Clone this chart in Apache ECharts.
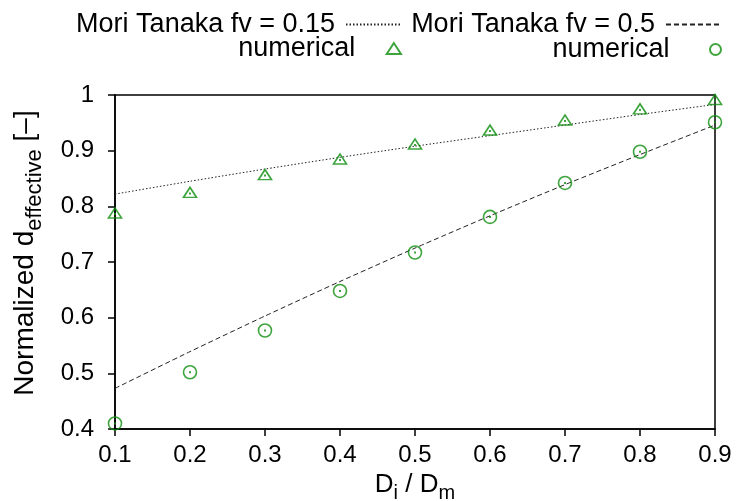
<!DOCTYPE html>
<html>
<head>
<meta charset="utf-8">
<script src="https://cdn.jsdelivr.net/npm/echarts@6/dist/echarts.min.js"></script>
<style>
html,body{margin:0;padding:0;background:#fff;}
#chart{width:739px;height:501px;}
</style>
</head>
<body>
<div id="chart"></div>
<script>
// Data
const ratios = [0.1, 0.2, 0.3, 0.4, 0.5, 0.6, 0.7, 0.8, 0.9];
const moriTanaka015 = [0.822, 0.845, 0.867, 0.888, 0.908, 0.927, 0.946, 0.965, 0.983];
const moriTanaka05 = [0.473, 0.539, 0.603, 0.665, 0.725, 0.783, 0.839, 0.893, 0.946];
const numerical015 = [0.788, 0.825, 0.857, 0.885, 0.912, 0.937, 0.955, 0.975, 0.992];
const numerical05 = [0.410, 0.502, 0.577, 0.648, 0.717, 0.781, 0.842, 0.898, 0.951];
const seriesNames = ['Mori Tanaka fv = 0.15', 'Mori Tanaka fv = 0.5', 'numerical', 'numerical '];

const pair = (ys) => ratios.map((x, i) => [x, ys[i]]);
const GREEN = '#0e8f0e';
const LINE = '#222';
const FONT = 'Liberation Sans, Arial, sans-serif';
const TRI = 'path://M0,10L6.5,0L13,10Z';

const chart = echarts.init(document.getElementById('chart'), null, {renderer: 'canvas'});

function legendAt(name, right, top, h) {
  return {
    data: [name], right: right, top: top, padding: 0, align: 'right',
    itemWidth: 55, itemHeight: h, selectedMode: false,
    textStyle: {fontFamily: FONT, fontSize: 27, color: '#000', padding: [0, 6, 0, 0]}
  };
}

const xNameRich = {
  a: {fontFamily: FONT, fontSize: 26, color: '#000', lineHeight: 26, verticalAlign: 'top'},
  s: {fontFamily: FONT, fontSize: 20, color: '#000', lineHeight: 32, verticalAlign: 'bottom'}
};
const yNameRich = {
  a: {fontFamily: FONT, fontSize: 28, color: '#000', lineHeight: 28, verticalAlign: 'top'},
  s: {fontFamily: FONT, fontSize: 22, color: '#000', lineHeight: 35, verticalAlign: 'bottom'}
};

chart.setOption({
  animation: false,
  backgroundColor: '#fff',
  legend: [
    legendAt(seriesNames[0], 337, 11, 13),
    legendAt(seriesNames[1], 17, 11, 13),
    legendAt(seriesNames[2], 337, 35, 11),
    legendAt(seriesNames[3], 17, 36, 11)
  ],
  grid: {
    left: 115, right: 24, top: 95, bottom: 72, containLabel: false, outerBoundsMode: 'none',
    show: true, borderColor: '#000', borderWidth: 1.5, backgroundColor: 'transparent'
  },
  xAxis: {
    type: 'value', min: 0.1, max: 0.9, interval: 0.1,
    name: '{a|D}{s|i}{a| / D}{s|m}', nameLocation: 'middle', nameGap: 37,
    nameTextStyle: {rich: xNameRich},
    axisLine: {lineStyle: {color: '#000', width: 1.5}},
    axisTick: {inside: false, length: 7, lineStyle: {color: '#000', width: 1.5}},
    axisLabel: {fontFamily: FONT, fontSize: 24, color: '#000', margin: 14, formatter: v => (Math.round(v * 10) / 10).toFixed(1)},
    splitLine: {show: false}
  },
  yAxis: {
    type: 'value', min: 0.4, max: 1, interval: 0.1,
    name: '{a|Normalized d}{s|effective}{a| [–]}', nameLocation: 'middle', nameGap: 69,
    nameTextStyle: {rich: yNameRich, padding: [0, 0, 0, 18]},
    axisLine: {lineStyle: {color: '#000', width: 1.5}},
    axisTick: {inside: false, length: 7, lineStyle: {color: '#000', width: 1.5}},
    axisLabel: {fontFamily: FONT, fontSize: 24, color: '#000', margin: 21, formatter: v => String(Math.round(v * 10) / 10)},
    splitLine: {show: false}
  },
  series: [
    {
      name: seriesNames[0], type: 'line', data: pair(moriTanaka015), symbol: 'none', smooth: 0.2,
      lineStyle: {color: LINE, width: 1, type: [1.5, 2]},
      itemStyle: {color: 'rgba(0,0,0,0)', borderColor: 'rgba(0,0,0,0)', borderWidth: 0}, z: 2
    },
    {
      name: seriesNames[1], type: 'line', data: pair(moriTanaka05), symbol: 'none', smooth: 0.2,
      lineStyle: {color: LINE, width: 1, type: [5, 3]},
      itemStyle: {color: 'rgba(0,0,0,0)', borderColor: 'rgba(0,0,0,0)', borderWidth: 0}, z: 2
    },
    {
      name: seriesNames[2], type: 'scatter', data: pair(numerical015), symbol: TRI, symbolSize: [13, 10],
      clip: false, itemStyle: {color: 'rgba(255,255,255,0)', borderColor: GREEN, borderWidth: 1.6}, z: 3
    },
    {
      name: seriesNames[3], type: 'scatter', data: pair(numerical05), symbol: 'circle', symbolSize: 13,
      clip: false, itemStyle: {color: 'rgba(255,255,255,0)', borderColor: GREEN, borderWidth: 1.6}, z: 3
    },
    {
      name: 'dots1', type: 'scatter', data: pair(numerical015), symbol: 'rect', symbolSize: 2, symbolOffset: [0, 1],
      silent: true, clip: false, itemStyle: {color: GREEN}, z: 4
    },
    {
      name: 'dots2', type: 'scatter', data: pair(numerical05), symbol: 'rect', symbolSize: 2,
      silent: true, clip: false, itemStyle: {color: GREEN}, z: 4
    }
  ]
});
</script>
</body>
</html>
